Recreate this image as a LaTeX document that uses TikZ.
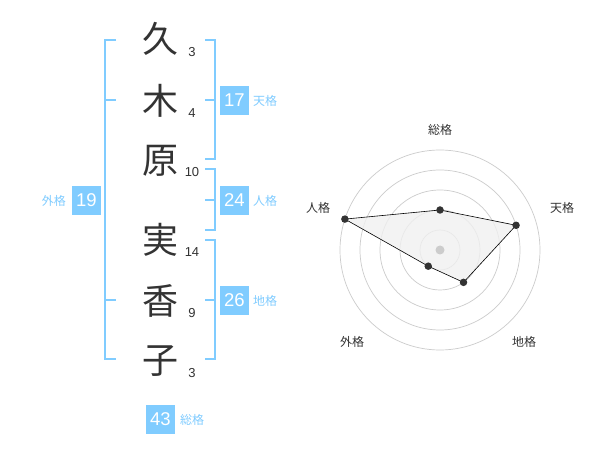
\documentclass[tikz,border=0pt]{standalone}
\usepackage{fontspec}
\usetikzlibrary{calc}
\setmainfont{Liberation Sans}
\newfontfamily\cjk{Noto Sans CJK JP}
\definecolor{kblue}{HTML}{80CCFF}
\definecolor{ktext}{HTML}{333333}
\definecolor{kring}{HTML}{CCCCCC}
\definecolor{kfill}{HTML}{F0F0F0}
\begin{document}
\begin{tikzpicture}[x=1pt,y=-1pt,
  kanji/.style={font=\cjk\fontsize{36}{36}\selectfont, text=ktext, inner sep=0pt},
  strokes/.style={font=\fontsize{13}{13}\selectfont, text=ktext, inner sep=0pt},
  numbox/.style={fill=kblue, text=white, minimum size=29pt, inner sep=0pt, font=\fontsize{18.5}{18.5}\selectfont},
  kaku/.style={text=kblue, font=\cjk\fontsize{12}{12}\selectfont, inner sep=0pt},
  bracket/.style={draw=kblue, line width=2pt},
  ring/.style={draw=kring, line width=0.7pt},
  dot/.style={circle, fill=ktext, minimum size=7.5pt, inner sep=0pt},
  axislabel/.style={text=ktext, font=\cjk\fontsize{12}{12}\selectfont, inner sep=0pt}]
\useasboundingbox[fill=white] (0,0) rectangle (600,470);

% kanji
\node[kanji] (k1) at (160,39) {久};
\node[kanji] (k2) at (160,101) {木};
\node[kanji] (k3) at (160,161) {原};
\node[kanji] (k4) at (160,240) {実};
\node[kanji] (k5) at (160,301) {香};
\node[kanji] (k6) at (160,361) {子};

% stroke counts
\node[strokes] (s1) at (192,52) {3};
\node[strokes] (s2) at (192,113) {4};
\node[strokes] (s3) at (192,172) {10};
\node[strokes] (s4) at (192,252) {14};
\node[strokes] (s5) at (192,313) {9};
\node[strokes] (s6) at (192,373) {3};

% brackets
\draw[bracket] (116,40) -- (105,40) -- (105,359) -- (116,359);
\draw[bracket] (105,100) -- (116,100);
\draw[bracket] (105,300) -- (116,300);
\draw[bracket] (205,40) -- (215,40) -- (215,159) -- (205,159);
\draw[bracket] (205,100) -- (215,100);
\draw[bracket] (205,169) -- (215,169) -- (215,230) -- (205,230);
\draw[bracket] (205,200) -- (215,200);
\draw[bracket] (205,240) -- (215,240) -- (215,359) -- (205,359);
\draw[bracket] (205,300) -- (215,300);

% boxes and labels
\node[numbox] (ten) at (234.5,100.5) {17};
\node[kaku, anchor=west] (tenl) at (253,101) {天格};
\node[numbox] (jin) at (234.5,200.5) {24};
\node[kaku, anchor=west] (jinl) at (253,201) {人格};
\node[numbox] (chi) at (234.5,300.5) {26};
\node[kaku, anchor=west] (chil) at (253,301) {地格};
\node[numbox] (gai) at (86.5,200.5) {19};
\node[kaku, anchor=east] (gail) at (66,201) {外格};
\node[numbox] (sou) at (160.5,419) {43};
\node[kaku, anchor=west] (soul) at (180,420) {総格};

% radar chart
\coordinate (c) at (440,250);
\foreach \r in {20,40,60,80,100} \draw[ring] (c) circle[radius=\r];
\coordinate (pS) at ($(c)+(0,-40)$);
\coordinate (pT) at ($(c)+(76.08,-24.72)$);
\coordinate (pC) at ($(c)+(23.51,32.36)$);
\coordinate (pG) at ($(c)+(-11.76,16.18)$);
\coordinate (pJ) at ($(c)+(-95.11,-30.90)$);
\fill[kfill, opacity=0.8] (pS) -- (pT) -- (pC) -- (pG) -- (pJ) -- cycle;
\draw[black, line width=0.6pt] (pS) -- (pT) -- (pC) -- (pG) -- (pJ) -- cycle;
\node[circle, fill=kring, minimum size=9pt, inner sep=0pt] (cdot) at (c) {};
\foreach \p in {pS,pT,pC,pG,pJ} \node[dot] at (\p) {};

\node[axislabel] (aS) at (440,130) {総格};
\node[axislabel] (aT) at (562,208) {天格};
\node[axislabel] (aJ) at (318,208) {人格};
\node[axislabel] (aG) at (352,342) {外格};
\node[axislabel] (aC) at (524,342) {地格};
\end{tikzpicture}
\end{document}
